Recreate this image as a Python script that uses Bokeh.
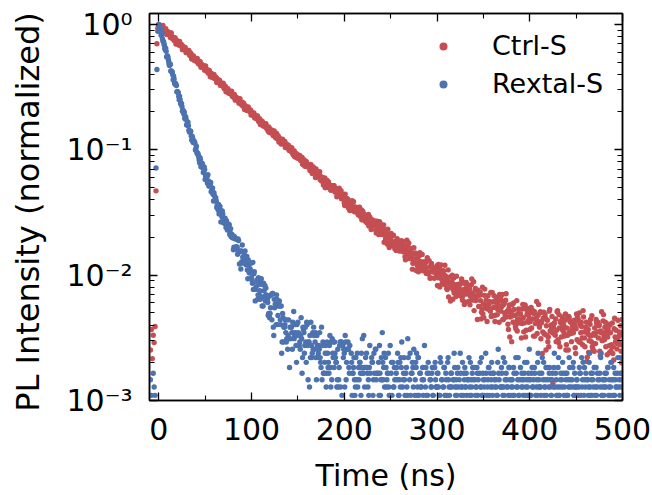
import numpy as np
from bokeh.plotting import figure
from bokeh.models import LogAxis, LinearAxis, FixedTicker, Legend, LegendItem, CustomJSTickFormatter
from bokeh.embed import file_html
from bokeh.resources import INLINE

FONT = "DejaVu Sans"
RED = "#C44E52"
BLUE = "#4C72B0"

series_names = ["Ctrl-S", "Rextal-S"]

# ---------------- data: photon counts per time bin ----------------
# integer-ns bins, first bin at t = -9 ns
first_bin_ns = -9
ctrl_counts = [
    48, 70, 41, 63, 55, 74, 893, 13300, 17700,
    19000, 18600, 18550, 18100, 17950, 17480, 17300, 16800, 16800, 16400,
    16210, 16090, 15530, 15490, 15150, 14720, 14950, 14380, 14320, 13870,
    13780, 13270, 13430, 13090, 12810, 12880, 12310, 12320, 12040, 11950,
    11560, 11630, 11210, 11140, 10770, 10890, 10560, 10460, 10120, 10170,
    9890, 9920, 9530, 9460, 9100, 9240, 8950, 8870, 8840, 8470,
    8480, 8280, 8020, 8220, 7860, 7850, 7570, 7550, 7200, 7380,
    7160, 6996, 7086, 6710, 6754, 6586, 6557, 6298, 6408, 6112,
    6104, 5865, 5988, 5776, 5736, 5519, 5585, 5411, 5472, 5206,
    5183, 4956, 5083, 4894, 4865, 4867, 4625, 4664, 4540, 4366,
    4541, 4305, 4321, 4141, 4146, 3915, 4068, 3931, 3828, 3925,
    3666, 3716, 3614, 3611, 3444, 3540, 3345, 3357, 3194, 3312,
    3167, 3165, 3003, 3094, 2968, 3054, 2846, 2856, 2670, 2829,
    2682, 2684, 2713, 2522, 2584, 2499, 2368, 2563, 2361, 2409,
    2264, 2293, 2107, 2270, 2169, 2099, 2209, 1990, 2065, 1991,
    2010, 1878, 1987, 1829, 1861, 1730, 1859, 1747, 1758, 1641,
    1724, 1640, 1713, 1568, 1584, 1455, 1582, 1480, 1492, 1527,
    1388, 1443, 1387, 1298, 1449, 1308, 1350, 1249, 1281, 1141,
    1276, 1209, 1164, 1251, 1097, 1158, 1109, 1132, 1036, 1129,
    1013, 1043, 952, 1053, 975, 990, 908, 977, 916, 982,
    873, 890, 801, 898, 828, 842, 870, 771, 819, 780,
    716, 841, 735, 773, 698, 728, 622, 737, 685, 652,
    730, 608, 663, 629, 651, 577, 658, 567, 597, 524,
    613, 555, 569, 508, 566, 522, 578, 494, 513, 439,
    526, 472, 487, 514, 436, 480, 451, 401, 506, 423,
    455, 400, 426, 347, 437, 400, 377, 441, 345, 393,
    367, 386, 332, 395, 328, 352, 299, 370, 325, 340,
    295, 341, 308, 352, 291, 307, 252, 321, 280, 293,
    314, 257, 291, 271, 236, 314, 254, 280, 238, 260,
    202, 271, 244, 228, 278, 206, 243, 225, 241, 200,
    249, 200, 220, 181, 235, 202, 214, 179, 217, 193,
    226, 181, 194, 153, 206, 176, 187, 206, 160, 188,
    173, 146, 209, 162, 184, 152, 169, 122, 180, 159,
    147, 186, 132, 161, 148, 161, 129, 170, 130, 146,
    116, 161, 134, 145, 117, 148, 129, 159, 120, 132,
    99, 144, 119, 129, 144, 107, 131, 119, 96, 152,
    112, 131, 104, 120, 81, 130, 112, 102, 138, 90,
    116, 105, 117, 91, 126, 92, 107, 80, 120, 98,
    107, 84, 111, 95, 120, 88, 98, 70, 110, 88,
    97, 111, 80, 101, 91, 71, 119, 85, 102, 79,
    93, 60, 102, 87, 79, 110, 69, 92, 82, 93,
    70, 102, 72, 85, 62, 97, 78, 86, 65, 91,
    76, 95, 59, 81, 67, 96, 64, 86, 75, 83,
    61, 98, 68, 76, 89, 26, 78, 64, 85, 69,
    99, 55, 72, 80, 61, 88, 74, 66, 83, 48,
    72, 63, 89, 67, 80, 56, 74, 66, 83, 50,
    71, 58, 85, 56, 76, 66, 74, 53, 88, 60,
    67, 80, 42, 70, 57, 77, 62, 90, 49, 65,
    72, 54, 80, 67, 60, 76, 43, 66, 57, 82,
    61, 73, 51, 68, 61, 77, 46, 66, 53, 79,
    51, 71, 61, 69, 49, 83, 56, 63, 75, 38, 66,
]

rextal_counts = [
    8, 6, 5, 9, 7, 6, 390, 2380, 4800,
    5460, 5198, 4899, 4501, 4198, 3979, 3721, 3417, 3326, 3035,
    2959, 2665, 2649, 2316, 2283, 2166, 2111, 1869, 1844, 1773,
    1590, 1564, 1367, 1365, 1266, 1210, 1128, 1051, 978, 1003,
    858, 859, 846, 757, 756, 704, 699, 627, 640, 618,
    554, 521, 513, 482, 430, 453, 402, 425, 359, 398,
    316, 339, 332, 345, 280, 300, 299, 256, 271, 213,
    235, 216, 213, 196, 181, 168, 193, 145, 160, 168,
    142, 152, 140, 148, 125, 140, 138, 119, 111, 115,
    108, 91, 108, 88, 106, 80, 103, 67, 84, 85,
    95, 68, 82, 85, 66, 77, 51, 65, 57, 59,
    52, 47, 42, 58, 34, 44, 50, 38, 46, 41,
    47, 36, 46, 47, 37, 34, 38, 35, 26, 37,
    27, 38, 24, 39, 18, 30, 31, 38, 22, 32,
    34, 24, 31, 16, 25, 21, 22, 19, 17, 14,
    24, 10, 17, 21, 14, 19, 17, 22, 15, 22,
    23, 18, 16, 18, 17, 12, 20, 13, 21, 11,
    22, 8, 16, 18, 23, 12, 19, 21, 14, 19,
    8, 15, 13, 14, 12, 10, 8, 16, 5, 11,
    15, 9, 13, 11, 15, 10, 16, 17, 12, 10,
    13, 11, 7, 14, 8, 15, 7, 16, 5, 12,
    13, 18, 8, 14, 16, 10, 15, 5, 11, 9,
    10, 8, 7, 5, 13, 3, 8, 11, 6, 10,
    9, 18, 7, 12, 13, 9, 8, 10, 9, 5,
    11, 6, 13, 5, 14, 3, 9, 11, 15, 6,
    12, 19, 8, 13, 4, 10, 8, 9, 7, 6,
    4, 11, 2, 7, 10, 5, 9, 8, 11, 6,
    11, 12, 16, 7, 9, 8, 4, 10, 6, 12,
    5, 13, 3, 9, 10, 14, 6, 11, 13, 7,
    12, 3, 9, 7, 8, 6, 5, 4, 10, 2,
    6, 9, 5, 8, 7, 10, 6, 10, 11, 7,
    7, 9, 5, 6, 11, 8, 4, 7, 10, 6,
    8, 6, 12, 7, 5, 9, 7, 3, 8, 10,
    6, 7, 9, 5, 8, 13, 6, 7, 4, 9,
    10, 7, 6, 8, 5, 7, 11, 6, 9, 8,
    5, 8, 7, 10, 6, 4, 9, 7, 12, 6,
    8, 7, 5, 9, 6, 8, 10, 2, 7, 11,
    6, 9, 8, 5, 7, 6, 14, 8, 5, 7,
    9, 6, 7, 11, 4, 8, 7, 6, 10, 5,
    7, 8, 6, 9, 5, 12, 7, 8, 6, 3,
    10, 7, 8, 6, 9, 5, 7, 11, 6, 8,
    6, 5, 9, 7, 8, 10, 4, 7, 6, 13,
    8, 7, 6, 9, 5, 11, 7, 8, 6, 10,
    5, 9, 7, 6, 8, 4, 10, 7, 9, 6,
    7, 12, 6, 8, 5, 7, 9, 6, 3, 8,
    9, 6, 7, 10, 8, 5, 7, 11, 6, 7,
    6, 8, 4, 7, 9, 6, 12, 8, 5, 10,
    7, 5, 8, 6, 11, 7, 9, 6, 8, 4,
    10, 7, 6, 9, 5, 8, 7, 13, 6, 8,
    6, 9, 7, 5, 10, 6, 8, 7, 11, 5,
    8, 6, 9, 7, 4, 12, 7, 6, 9, 8,
    7,
]

# half-ns bins (t = first + 0, 1, 2 ...)
ctrl_half_first_ns = 0.5
ctrl_half_counts = [
    18530, 17850, 18480, 17640, 18590, 16900, 17140, 17540, 15760, 16650,
    15890, 16270, 14920, 16200, 14740, 14940, 14120, 14890, 13240, 14140,
    13640, 13010, 13860, 12850, 13160, 11940, 12610, 11920, 12450, 11300,
    11700, 11280, 11770, 10700, 11180, 10040, 10500, 10640, 9760, 10100,
    9640, 10170, 9240, 9370, 9590, 8620, 9100, 8690, 8900, 8160,
    8860, 8060, 8170, 7720, 8150, 7240, 7730, 7460, 7120, 7580,
    7030, 7200, 6530, 6900, 6520, 6810, 6190, 6400, 6180, 6450,
    5860, 6120, 5500, 5750, 5830, 5350, 5530, 5280, 5570, 5060,
    5135, 5250, 4720, 4990, 4760, 4880, 4470, 4860, 4420, 4480,
    4240, 4470, 3970, 4240, 4090, 3910, 4160, 3860, 3950, 3590,
    3790, 3580, 3740, 3400, 3520, 3390, 3540, 3220, 3360, 3020,
    3160, 3210, 2940, 3040, 2910, 3060, 2790, 2830, 2890, 2600,
    2750, 2620, 2690, 2460, 2680, 2440, 2470, 2330, 2460, 2190,
    2340, 2260, 2150, 2300, 2130, 2180, 1980, 2090, 1980, 2070,
    1880, 1940, 1880, 1960, 1780, 1860, 1670, 1750, 1770, 1630,
    1651, 1655, 1593, 1555, 1650, 1470, 1578, 1404, 1536, 1489,
    1409, 1409, 1414, 1376, 1365, 1229, 1385, 1349, 1307, 1336,
    1172, 1240, 1155, 1270, 1145, 1071, 1130, 995, 1070, 947,
    1034, 1083, 978, 948, 942, 904, 959, 927, 983, 945,
    936, 910, 815, 863, 936, 832, 897, 786, 838, 779,
    683, 776, 713, 770, 651, 676, 649, 626, 744, 650,
    649, 628, 637, 642, 596, 572, 660, 558, 630, 526,
    590, 575, 545, 555, 494, 564, 469, 552, 530, 489,
    495, 505, 488, 488, 411, 511, 494, 475, 497, 402,
    450, 405, 477, 408, 370, 409, 335, 383, 315, 369,
    408, 343, 328, 329, 308, 351, 330, 342, 318, 308,
    317, 358, 338, 340, 327, 266, 304, 360, 293, 343,
    271, 309, 275, 212, 282, 242, 286, 207, 229, 215,
    206, 287, 229, 231, 220, 230, 238, 208, 196, 262,
    194, 247, 179, 227, 219, 202, 212, 217, 207, 210,
    157, 231, 221, 209, 229, 163, 201, 168, 228, 176,
    149, 181, 127, 166, 118, 161, 190, 145, 137, 140,
    128, 159, 147, 156, 141, 136, 177, 120, 165, 111,
    137, 166, 155, 158, 150, 110, 137, 177, 133, 168,
    121, 149, 127, 84, 133, 107, 139, 85, 102, 93,
    87, 147, 106, 109, 102, 111, 117, 98, 89, 138,
    90, 130, 81, 117, 113, 101, 109, 133, 126, 118,
    133, 84, 114, 90, 135, 97, 77, 103, 61, 93,
    56, 90, 114, 80, 74, 77, 68, 94, 84, 93,
    82, 78, 111, 67, 103, 61, 104, 97, 80, 86,
    81, 105, 96, 99, 94, 62, 85, 117, 82, 111,
    73, 97, 79, 45, 86, 65, 92, 48, 63, 56,
    51, 101, 68, 71, 66, 73, 79, 63, 56, 97,
    58, 92, 51, 82, 78, 69, 76, 62, 93, 53,
    86, 48, 87, 81, 65, 71, 79, 74, 77, 45,
    93, 88, 82, 95, 55, 80, 60, 99, 67, 51,
    73, 39, 65, 46, 63, 84, 56, 51, 54, 47,
    63, 84, 77, 80, 75, 47, 68, 97, 66, 92,
    58, 80, 64, 44, 71, 52, 76, 47, 51, 45,
    40, 86, 56, 59, 54, 61, 67, 53, 47, 84,
]

rextal_half_first_ns = 0.5
rextal_half_counts = [
    5240, 5117, 4472, 4629, 4011, 3879, 3500, 3526, 2994, 3051,
    2812, 2568, 2616, 2321, 2273, 1976, 2001, 1813, 1815, 1580,
    1571, 1455, 1458, 1275, 1279, 1105, 1114, 1088, 960, 957,
    877, 905, 781, 770, 766, 653, 678, 622, 621, 543,
    582, 506, 500, 454, 472, 399, 421, 392, 362, 379,
    339, 340, 295, 308, 281, 289, 252, 257, 241, 248,
    215, 226, 189, 200, 200, 173, 180, 166, 177, 151,
    152, 155, 131, 140, 129, 132, 115, 128, 110, 111,
    87, 111, 106, 92, 91, 106, 84, 85, 61, 70,
    76, 70, 69, 75, 71, 60, 72, 57, 61, 68,
    50, 69, 56, 42, 42, 48, 35, 52, 38, 35,
    51, 31, 31, 41, 45, 43, 36, 33, 27, 25,
    30, 38, 39, 21, 35, 32, 22, 35, 26, 31,
    31, 22, 13, 27, 16, 21, 24, 16, 24, 18,
    17, 21, 21, 19, 23, 28, 18, 19, 11, 18,
    19, 15, 14, 25, 9, 21, 19, 15, 16, 23,
    15, 16, 7, 12, 15, 13, 14, 18, 16, 12,
    18, 12, 15, 19, 11, 21, 15, 9, 9, 13,
    7, 16, 10, 9, 18, 7, 8, 13, 16, 16,
    12, 11, 8, 7, 10, 16, 16, 6, 15, 14,
    7, 16, 11, 14, 14, 9, 3, 13, 6, 9,
    12, 6, 12, 8, 7, 10, 11, 9, 13, 17,
    9, 10, 4, 10, 10, 7, 6, 15, 3, 12,
    11, 8, 9, 14, 8, 9, 2, 6, 9, 8,
    8, 11, 10, 7, 12, 7, 9, 13, 6, 15,
    9, 6, 11, 7, 8, 5, 10, 13, 6, 8,
    7, 10, 4, 8, 12, 6, 9, 7, 17, 5,
    8, 6, 9, 11, 7, 5, 8, 10, 6, 12,
    6, 9, 7, 4, 10, 8, 15, 7, 6, 9,
    11, 5, 8, 7, 9, 6, 3, 10, 8, 7,
    9, 7, 6, 12, 5, 8, 7, 10, 6, 9,
    5, 11, 8, 6, 7, 9, 4, 8, 13, 7,
    8, 6, 10, 7, 5, 9, 7, 11, 6, 8,
    7, 9, 5, 8, 12, 6, 8, 7, 10, 4,
    10, 6, 7, 9, 8, 5, 11, 7, 6, 9,
    6, 8, 13, 5, 7, 10, 6, 9, 8, 7,
    9, 5, 7, 8, 6, 11, 9, 4, 7, 10,
    7, 12, 6, 8, 9, 7, 5, 10, 8, 6,
    8, 7, 10, 6, 4, 9, 7, 12, 6, 8,
    5, 9, 7, 8, 11, 6, 8, 7, 9, 14,
    8, 6, 10, 7, 5, 9, 6, 8, 11, 7,
    9, 7, 5, 12, 8, 6, 7, 10, 4, 8,
    7, 10, 8, 6, 9, 7, 13, 5, 8, 6,
    10, 6, 7, 9, 8, 11, 5, 7, 9, 6,
    6, 8, 12, 7, 5, 8, 10, 6, 9, 7,
    8, 7, 6, 10, 9, 4, 7, 11, 6, 8,
    9, 5, 8, 7, 13, 6, 8, 9, 7, 10,
    6, 10, 7, 8, 5, 9, 12, 6, 7, 8,
    7, 8, 9, 5, 10, 7, 6, 11, 8, 6,
    10, 6, 8, 7, 9, 5, 8, 12, 7, 9,
]

x_major_ticks = [0, 100, 200, 300, 400, 500]
x_minor_ticks = [50, 150, 250, 350, 450]
y_major_ticks = [0.001, 0.01, 0.1, 1.0]
y_tick_labels = ["10\u207b\u00b3", "10\u207b\u00b2", "10\u207b\u00b9", "10\u2070"]
y_minor_ticks = [m * 10.0 ** e for e in (-3, -2, -1, 0) for m in range(2, 10)]

# ---------------- derived series (normalised to each curve's peak) ----------------
ctrl_peak = max(ctrl_counts)
rextal_peak = max(rextal_counts)
ctrl_t = np.concatenate([first_bin_ns + np.arange(len(ctrl_counts)),
                         ctrl_half_first_ns + np.arange(len(ctrl_half_counts))])
ctrl_y = np.concatenate([np.array(ctrl_counts, float), np.array(ctrl_half_counts, float)]) / ctrl_peak
rextal_t = np.concatenate([first_bin_ns + np.arange(len(rextal_counts)),
                           rextal_half_first_ns + np.arange(len(rextal_half_counts))])
rextal_y = np.concatenate([np.array(rextal_counts, float), np.array(rextal_half_counts, float)]) / rextal_peak

# ---------------- figure ----------------
p = figure(width=652, height=495, x_range=(-10, 500), y_range=(0.001, 1.22),
           y_axis_type="log", output_backend="svg", toolbar_location=None,
           min_border_left=149, min_border_right=30, min_border_top=13,
           min_border_bottom=93)
p.background_fill_color = "white"
p.border_fill_color = "white"
p.outline_line_color = "black"
p.outline_line_width = 1.5
p.xgrid.visible = False
p.ygrid.visible = False


def style_axis(ax, show_labels=True):
    ax.axis_line_color = "black"
    ax.axis_line_width = 1.5
    ax.major_tick_in = 8
    ax.major_tick_out = 0
    ax.minor_tick_in = 5
    ax.minor_tick_out = 0
    ax.major_tick_line_color = "black"
    ax.minor_tick_line_color = "black"
    ax.major_tick_line_width = 1.3
    ax.minor_tick_line_width = 1.1
    ax.major_label_text_font = FONT
    ax.major_label_text_color = "black"
    ax.axis_label_text_font = FONT
    ax.axis_label_text_font_style = "normal"
    ax.axis_label_text_color = "black"
    if show_labels:
        ax.major_label_text_font_size = "30px"
    else:
        ax.formatter = CustomJSTickFormatter(code="return ''")
        ax.major_label_text_font_size = "1px"
        ax.major_label_standoff = 0


xt = FixedTicker(ticks=x_major_ticks, minor_ticks=x_minor_ticks)
yt = FixedTicker(ticks=y_major_ticks, minor_ticks=y_minor_ticks)

xax = p.xaxis[0]
xax.ticker = xt
style_axis(xax)
xax.axis_label = "Time (ns)"
xax.axis_label_text_font_size = "30px"
xax.major_label_standoff = 17
xax.axis_label_standoff = 15

yax = p.yaxis[0]
yax.ticker = yt
style_axis(yax)
# a trailing no-break space moves the centred label down a little, as in the original
yax.axis_label = "PL Intensity (normalized)\u00a0"
yax.axis_label_text_font_size = "32px"
yax.major_label_overrides = {v: s for v, s in zip(y_major_ticks, y_tick_labels)}
yax.major_label_standoff = 17
yax.axis_label_standoff = 16

top_ax = LinearAxis(ticker=FixedTicker(ticks=x_major_ticks, minor_ticks=x_minor_ticks))
style_axis(top_ax, show_labels=False)
p.add_layout(top_ax, "above")

right_ax = LogAxis(ticker=FixedTicker(ticks=y_major_ticks, minor_ticks=y_minor_ticks))
style_axis(right_ax, show_labels=False)
p.add_layout(right_ax, "right")

# ---------------- data points ----------------
r_ctrl = p.scatter(ctrl_t, ctrl_y, size=5.4, fill_color=RED, line_color=None)
r_rextal = p.scatter(rextal_t, rextal_y, size=5.4, fill_color=BLUE, line_color=None)

legend = Legend(items=[LegendItem(label=series_names[0], renderers=[r_ctrl]),
                       LegendItem(label=series_names[1], renderers=[r_rextal])],
                location=(284, 301), padding=0, margin=0, spacing=7,
                glyph_width=20, glyph_height=20, label_standoff=39,
                border_line_color=None, background_fill_alpha=0,
                label_text_font=FONT, label_text_font_size="27px",
                label_text_color="black")
p.add_layout(legend)

open("out.html", "w").write(file_html(p, INLINE))
